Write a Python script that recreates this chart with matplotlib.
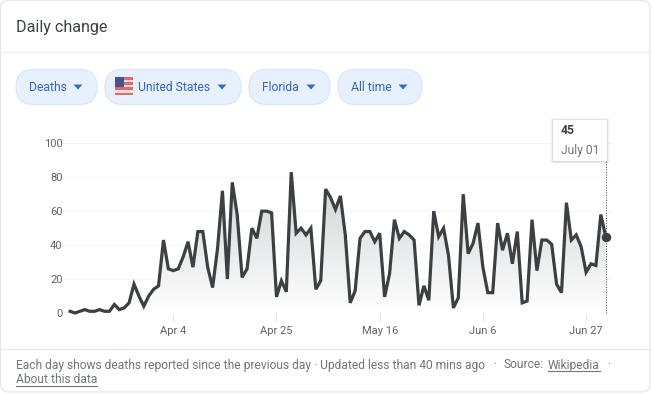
import numpy as np
import pandas as pd
import matplotlib
matplotlib.use("Agg")
import matplotlib.pyplot as plt
import matplotlib.dates as mdates
from matplotlib.patches import FancyBboxPatch, Rectangle, Polygon

plt.rcParams['font.family'] = ['Roboto', 'DejaVu Sans']

W, H = 653, 394
start_date = "2020-03-14"
deaths = [1, 0, 1, 2, 1, 1, 2, 1, 1, 5, 2, 3, 6, 17, 10, 4, 10, 14, 16, 43,
          26, 25, 26, 33, 42, 27, 48, 48, 27, 15, 38, 72, 20, 77, 58, 21, 26, 50, 44, 60,
          60, 59, 9.5, 19, 12.5, 83, 47, 50, 46, 50, 14, 19, 73, 68, 61, 69, 46, 6, 13, 44,
          48, 48, 42, 47, 9.5, 23, 55, 44, 48, 46, 43, 4.5, 16, 7.5, 60, 45, 50, 34, 3, 9,
          70, 35, 41, 53, 27, 12, 12, 53, 37, 47, 29, 48, 6, 7, 55, 25, 43, 43, 40.5, 17,
          12, 65, 43, 46, 39, 24, 29, 28, 58, 45]
y_ticks = [0, 20, 40, 60, 80, 100]
x_tick_dates = ["2020-04-04", "2020-04-25", "2020-05-16", "2020-06-06", "2020-06-27"]
x_tick_labels = ["Apr 4", "Apr 25", "May 16", "Jun 6", "Jun 27"]
pills = ["Deaths", "United States", "Florida", "All time"]
tooltip_value = "45"
tooltip_date = "July 01"

dates = pd.date_range(start_date, periods=len(deaths), freq="D")
xnum = mdates.date2num(dates)
vals = np.array(deaths, dtype=float)

fig = plt.figure(figsize=(W / 100, H / 100), dpi=100, facecolor="white")

# page chrome, in pixel coordinates
bg = fig.add_axes([0, 0, 1, 1], zorder=0)
bg.set_xlim(0, W); bg.set_ylim(H, 0); bg.axis("off")
bg.add_patch(FancyBboxPatch((0.5, 0.5), 649.5, 391.5, boxstyle="round,pad=0,rounding_size=8",
                            fc="white", ec="#e6e7ea", lw=0.9))
bg.plot([0.5, 650], [52, 52], color="#eceef0", lw=0.9)
bg.plot([0.5, 650], [349, 349], color="#e6e8ea", lw=0.9)
bg.text(16, 27, "Daily change", fontsize=11.6, color="#3c4043", va="center", ha="left")

blue = "#3367c4"
pill_boxes = [(16, 97, 29, 78), (105, 241, 138.5, 222), (249, 330, 262, 311), (338, 422, 351, 403)]
for label, (x0, x1, tx, ax_) in zip(pills, pill_boxes):
    bg.add_patch(FancyBboxPatch((x0, 69.5), x1 - x0, 35, boxstyle="round,pad=0,rounding_size=17.5",
                                fc="#e8f0fe", ec="#d8e6fc", lw=0.9))
    bg.text(tx, 87, label, fontsize=8.7, color=blue, va="center", ha="left")
    bg.add_patch(Polygon([(ax_ - 4.5, 84.5), (ax_ + 4.5, 84.5), (ax_, 89.5)], closed=True, fc="#2f6fd0", ec="none"))

# flag
for i in range(7):
    bg.add_patch(Rectangle((115, 77 + i * 2.6), 18, 2.6, fc="#dc6a6e" if i % 2 == 0 else "#f3dcdd", ec="none"))
bg.add_patch(Rectangle((115, 77), 9, 10.4, fc="#4a5488", ec="none"))

# footer
foot = "#70757a"
fs = 8.62
bg.text(16, 365, "Each day shows deaths reported since the previous day · Updated less than 40 mins ago",
        fontsize=fs, color=foot, va="center", ha="left")
bg.text(493.5, 365, "·", fontsize=fs, color=foot, va="center", ha="left")
bg.text(503, 365, "Source:", fontsize=fs, color=foot, va="center", ha="left")
bg.text(607, 365, "·", fontsize=fs, color=foot, va="center", ha="left")
link1 = bg.text(548, 365, "Wikipedia", fontsize=fs, color=foot, va="center", ha="left")
link2 = bg.text(16, 379.5, "About this data", fontsize=fs, color=foot, va="center", ha="left")
fig.canvas.draw()
inv = bg.transData.inverted()
for t, yy in ((link1, 371), (link2, 385.5)):
    e = t.get_window_extent()
    a = inv.transform((e.x0, e.y0))[0]; b = inv.transform((e.x1, e.y0))[0]
    bg.plot([a, b], [yy, yy], color=foot, lw=0.8)

# chart axes: y 0 at px 313, 100 at px 143.3
px_l, px_r, px_t, px_b = 57, 612, 143.3, 313
ax = fig.add_axes([px_l / W, 1 - px_b / H, (px_r - px_l) / W, (px_b - px_t) / H], zorder=1)
ax.patch.set_alpha(0)
d_ref = mdates.date2num(pd.Timestamp(x_tick_dates[0]))
px_per_day = 4.914
xlim = (d_ref - (173.3 - px_l) / px_per_day, d_ref + (px_r - 173.3) / px_per_day)
ax.set_xlim(*xlim)
ax.set_ylim(0, 100)
for s in ax.spines.values():
    s.set_visible(False)
ax.set_yticks(y_ticks)
ax.set_xticks(mdates.date2num(pd.to_datetime(x_tick_dates)))
ax.set_xticklabels(x_tick_labels)
ax.tick_params(axis="y", length=0, labelsize=8, labelcolor="#5f6368", pad=-4)
ax.tick_params(axis="x", length=6, width=0.8, color="#e0e2e5", labelsize=8, labelcolor="#5f6368", pad=3)
ax.grid(axis="y", color="#f6f6f6", lw=0.8)
ax.set_axisbelow(True)

# gradient area
poly = ax.fill_between(xnum, vals, 0, color="none", lw=0)
grad = np.linspace(0, 1, 256).reshape(-1, 1)
cmap = matplotlib.colors.LinearSegmentedColormap.from_list("g", ["#cfd1d4", "#ffffff"])
im = ax.imshow(grad, aspect="auto", cmap=cmap, vmin=0, vmax=1, origin="upper",
               extent=[xnum[0], xnum[-1], 0, max(vals)], zorder=1)
im.set_clip_path(poly.get_paths()[0], transform=ax.transData)
ax.set_xlim(*xlim)
ax.set_ylim(0, 100)

ax.plot(xnum, vals, color="#3c4043", lw=2.3, solid_joinstyle="miter", clip_on=False, zorder=3)
ax.plot(xnum[-1], vals[-1], "o", ms=5.8, color="#3c4043", clip_on=False, zorder=4)

# tooltip guide, from the last point
top_frac = (313 - 160.7) / (px_b - px_t)
ax.plot([xnum[-1], xnum[-1]], [0, top_frac * 100], color="#5f6368", lw=0.8, ls=(0, (1, 1.3)), clip_on=False, zorder=2)

# tooltip
fg = fig.add_axes([0, 0, 1, 1], zorder=2)
fg.set_xlim(0, W); fg.set_ylim(H, 0); fg.axis("off"); fg.patch.set_alpha(0)
for grow, a in ((2.5, 0.03), (1.5, 0.05), (0.7, 0.07)):
    fg.add_patch(FancyBboxPatch((553 - grow, 119.5 - grow + 0.8), 54 + 2 * grow, 41 + 2 * grow,
                                boxstyle="round,pad=0,rounding_size=2", fc="black", ec="none", alpha=a))
fg.add_patch(Rectangle((553, 119.5), 54, 41, fc="white", ec="none"))
fg.text(561, 131, tooltip_value, fontsize=8.7, fontweight="bold", color="#3c4043", va="center", ha="left")
fg.text(561, 150, tooltip_date, fontsize=8.7, color="#70757a", va="center", ha="left")

fig.savefig("out.png", dpi=100)
